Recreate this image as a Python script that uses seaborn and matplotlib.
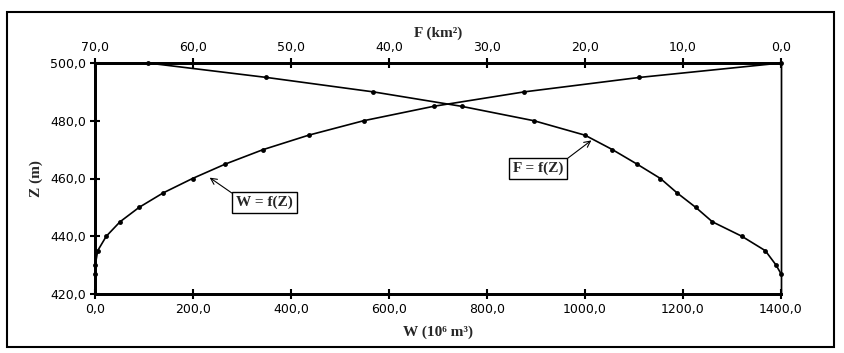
import pandas as pd
import matplotlib.pyplot as plt
from matplotlib.patches import Rectangle
from matplotlib.ticker import FuncFormatter
import seaborn as sns

# cote Z (m)
z_w = [427, 430, 435, 440, 445, 450, 455, 460, 465, 470, 475, 480, 485, 490, 495, 500]
# volume W (10^6 m3)
w_vals = [0.0, 0.5, 5.5, 23, 51, 90, 139, 199, 266, 343, 436, 548, 691, 876, 1111, 1400]

z_f = [500, 495, 490, 485, 480, 475, 470, 465, 460, 455, 450, 445, 440, 435, 430, 427]
# surface F (km2)
f_vals = [64.6, 52.5, 41.6, 32.6, 25.2, 20.0, 17.2, 14.7, 12.3, 10.6, 8.7, 7.0, 4.0, 1.6, 0.5, 0.0]

w_ticks = [0, 200, 400, 600, 800, 1000, 1200, 1400]
z_ticks = [420, 440, 460, 480, 500]
f_ticks = [70, 60, 50, 40, 30, 20, 10, 0]

df_w = pd.DataFrame({'W': w_vals, 'Z': z_w})
df_f = pd.DataFrame({'F': f_vals, 'Z': z_f})

sns.set_style('white')
plt.rcParams['font.family'] = ['DejaVu Sans']

fig = plt.figure(figsize=(8.45, 3.53), dpi=100)
ax = fig.add_axes([95 / 845, 1 - 294 / 353, 686 / 845, 231 / 353])

virgule = FuncFormatter(lambda v, p: f'{v:.1f}'.replace('.', ','))

# courbe W = f(Z)
sns.lineplot(data=df_w, x='W', y='Z', ax=ax, sort=False, estimator=None,
             color='black', linewidth=1.2, marker='o', markersize=3.5,
             markeredgewidth=0, clip_on=False, zorder=5)
ax.set_xlim(0, 1400)
ax.set_ylim(420, 500)
ax.set_xticks(w_ticks)
ax.set_yticks(z_ticks)
ax.xaxis.set_major_formatter(virgule)
ax.yaxis.set_major_formatter(virgule)

# courbe F = f(Z) sur l'axe du haut (inversé)
ax2 = ax.twiny()
sns.lineplot(data=df_f, x='F', y='Z', ax=ax2, sort=False, estimator=None,
             color='black', linewidth=1.2, marker='o', markersize=3.5,
             markeredgewidth=0, clip_on=False, zorder=5)
ax2.set_xlim(70, 0)
ax2.set_xticks(f_ticks)
ax2.xaxis.set_major_formatter(virgule)

for a in (ax, ax2):
    for side in ('left', 'bottom', 'top'):
        a.spines[side].set_linewidth(2)
        a.spines[side].set_color('black')
    a.spines['right'].set_linewidth(1)
    a.spines['right'].set_color('black')
    a.tick_params(direction='inout', length=7, width=1.5, labelsize=9,
                  colors='black', pad=3)
ax.tick_params(axis='x', bottom=True, top=False)
ax.tick_params(axis='y', left=True, right=False)

titre = dict(family=['Liberation Serif', 'DejaVu Serif'], weight='bold', fontsize=11)
ax.set_xlabel('W (10⁶ m³)', **titre)
ax.set_ylabel('Z (m)', **titre)
ax2.set_xlabel('F (km²)', **titre)
ax.xaxis.set_label_coords(0.5, -0.135)
ax.yaxis.set_label_coords(-0.076, 0.5)
ax2.xaxis.set_label_coords(0.5, 1.115)

boite = dict(boxstyle='square,pad=0.25', fc='white', ec='black', lw=1)
ax.annotate('W = f(Z)', xy=(234, 460.3), xytext=(346, 451.6),
            ha='center', va='center', bbox=boite, **titre,
            arrowprops=dict(arrowstyle='->', color='black', lw=0.8,
                            relpos=(0, 1), shrinkA=0, shrinkB=0))
ax.annotate('F = f(Z)', xy=(1013, 473.2), xytext=(905, 463.6),
            ha='center', va='center', bbox=boite, **titre,
            arrowprops=dict(arrowstyle='->', color='black', lw=0.8,
                            relpos=(1, 1), shrinkA=0, shrinkB=0))

# cadre extérieur
fig.patches.append(Rectangle((7 / 845, 6 / 353), 827 / 845, 335 / 353,
                             transform=fig.transFigure, fill=False,
                             ec='black', lw=1.5))

fig.savefig('out.png', dpi=100, facecolor='white')
